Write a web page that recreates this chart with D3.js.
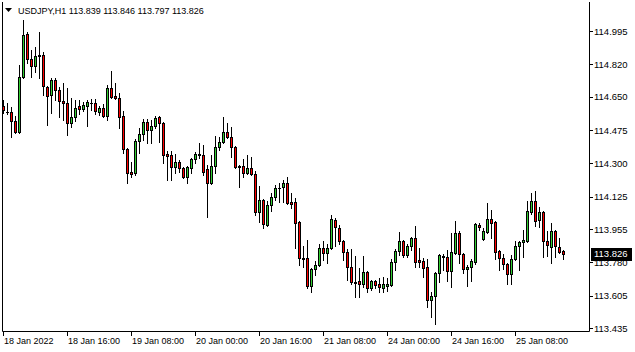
<!DOCTYPE html>
<html lang="en">
<head>
<meta charset="UTF-8">
<title>USDJPY H1 - D3</title>
<script src="https://d3js.org/d3.v7.min.js"></script>
<style>
  body { margin: 0; background: #fff; }
  svg text { font-family: "Liberation Sans", Arial, sans-serif; font-size: 9px; fill: #000; }
  svg text.price { font-size: 9.5px; }
</style>
</head>
<body>
<script>
var symbol = "USDJPY,H1";
var headerValues = ["113.839", "113.846", "113.797", "113.826"];

// hourly bars, 18 Jan 00:00 -> 25 Jan 20:00 (weekend skipped)
var open = [114.601,114.570,114.570,114.522,114.465,114.753,114.979,114.848,114.811,114.869,
  114.869,114.701,114.659,114.738,114.685,114.627,114.617,114.512,114.543,114.601,
  114.585,114.601,114.617,114.617,114.570,114.591,114.549,114.696,114.654,114.643,
  114.549,114.375,114.254,114.249,114.417,114.454,114.517,114.475,114.496,114.543,
  114.512,114.349,114.343,114.280,114.306,114.275,114.228,114.275,114.322,114.349,
  114.343,114.270,114.196,114.285,114.385,114.412,114.465,114.438,114.385,114.285,
  114.285,114.249,114.275,114.243,114.044,114.107,113.976,114.081,114.123,114.170,
  114.175,114.196,114.097,114.097,113.992,113.803,113.803,113.655,113.745,113.766,
  113.855,113.829,113.855,114.002,113.960,113.892,113.834,113.755,113.676,113.681,
  113.665,113.729,113.644,113.681,113.665,113.644,113.655,113.660,113.781,113.839,
  113.892,113.818,113.866,113.907,113.792,113.787,113.755,113.582,113.603,113.724,
  113.808,113.808,113.734,113.829,113.934,113.824,113.745,113.755,113.781,113.976,
  113.902,113.939,114.008,113.992,113.839,113.803,113.771,113.719,113.797,113.866,
  113.887,113.892,114.044,114.102,114.002,114.044,113.892,113.860,113.944,113.860,
  113.839];
var high = [114.633,114.617,114.596,114.549,114.816,115.053,114.990,114.895,114.911,114.990,
  114.885,114.706,114.748,114.748,114.701,114.722,114.696,114.643,114.633,114.633,
  114.622,114.633,114.638,114.638,114.601,114.612,114.711,114.785,114.722,114.669,
  114.575,114.381,114.306,114.427,114.486,114.533,114.533,114.528,114.549,114.549,
  114.517,114.364,114.364,114.349,114.317,114.280,114.285,114.327,114.359,114.406,
  114.396,114.291,114.343,114.443,114.438,114.543,114.512,114.491,114.391,114.291,
  114.322,114.343,114.333,114.259,114.180,114.112,114.102,114.144,114.186,114.196,
  114.212,114.228,114.144,114.118,113.997,113.866,113.897,113.750,113.787,113.876,
  113.892,113.876,114.029,114.013,113.976,113.897,113.850,113.850,113.813,113.750,
  113.813,113.734,113.687,113.687,113.697,113.703,113.697,113.797,113.850,113.939,
  113.897,113.876,113.913,113.971,113.855,113.803,113.797,113.623,113.729,113.824,
  113.824,113.845,113.934,113.997,113.944,113.829,113.766,113.797,113.987,113.987,
  113.960,114.092,114.055,113.997,113.845,113.824,113.776,113.818,113.892,113.892,
  113.950,114.102,114.144,114.154,114.071,114.050,113.944,113.987,113.950,113.907,
  113.846];
var low = [114.564,114.559,114.438,114.459,114.459,114.748,114.827,114.753,114.780,114.748,
  114.659,114.501,114.564,114.633,114.543,114.528,114.449,114.491,114.522,114.559,
  114.575,114.496,114.580,114.559,114.554,114.543,114.528,114.643,114.638,114.486,
  114.354,114.196,114.228,114.238,114.354,114.422,114.406,114.406,114.486,114.412,
  114.301,114.212,114.212,114.249,114.254,114.222,114.196,114.249,114.301,114.327,
  114.238,114.018,114.191,114.249,114.370,114.406,114.433,114.333,114.275,114.175,
  114.228,114.243,114.238,114.029,113.992,113.960,113.971,114.050,114.107,114.097,
  114.097,114.086,114.065,113.855,113.766,113.755,113.644,113.623,113.713,113.761,
  113.792,113.776,113.850,113.866,113.876,113.792,113.687,113.665,113.597,113.597,
  113.650,113.623,113.634,113.644,113.623,113.623,113.629,113.655,113.739,113.818,
  113.808,113.808,113.845,113.755,113.755,113.703,113.545,113.493,113.456,113.676,
  113.739,113.681,113.650,113.824,113.776,113.724,113.655,113.681,113.771,113.950,
  113.897,113.934,113.907,113.797,113.739,113.745,113.665,113.665,113.792,113.739,
  113.808,113.887,114.034,113.971,113.966,113.808,113.813,113.776,113.808,113.829,
  113.797];
var close = [114.580,114.568,114.522,114.465,114.753,114.974,114.848,114.811,114.864,114.864,
  114.706,114.654,114.738,114.685,114.627,114.617,114.512,114.543,114.591,114.585,
  114.606,114.622,114.615,114.575,114.591,114.549,114.696,114.648,114.643,114.543,
  114.375,114.249,114.243,114.417,114.454,114.517,114.475,114.496,114.538,114.512,
  114.343,114.341,114.280,114.306,114.275,114.228,114.280,114.322,114.349,114.343,
  114.254,114.196,114.285,114.385,114.412,114.465,114.438,114.385,114.280,114.283,
  114.249,114.275,114.243,114.044,114.107,113.981,114.081,114.123,114.170,114.168,
  114.196,114.092,114.086,113.987,113.803,113.797,113.655,113.745,113.766,113.855,
  113.829,113.855,114.008,113.966,113.892,113.834,113.755,113.676,113.673,113.665,
  113.729,113.644,113.681,113.660,113.650,113.665,113.665,113.781,113.839,113.892,
  113.818,113.866,113.907,113.781,113.781,113.750,113.582,113.603,113.724,113.818,
  113.813,113.734,113.834,113.934,113.824,113.745,113.755,113.787,113.981,113.966,
  113.944,114.008,113.987,113.834,113.803,113.771,113.719,113.797,113.866,113.887,
  113.897,114.050,114.102,113.997,114.044,113.892,113.871,113.944,113.866,113.834,
  113.826];

var timeTickBars = [0, 16, 32, 48, 64, 80, 96, 112, 128];
var timeTickLabels = ["18 Jan 2022", "18 Jan 16:00", "19 Jan 08:00", "20 Jan 00:00", "20 Jan 16:00",
  "21 Jan 08:00", "24 Jan 00:00", "24 Jan 16:00", "25 Jan 08:00"];
var priceTicks = [114.995, 114.820, 114.650, 114.475, 114.300, 114.125, 113.955, 113.780, 113.605, 113.435];
var lastPrice = 113.826;

var width = 635, height = 352;
var plot = { left: 2, right: 589, top: 2, bottom: 331 };

var svg = d3.select("body").append("svg")
  .attr("width", width)
  .attr("height", height)
  .style("display", "block");

var bars = open.map(function(o, i) {
  return { i: i, o: o, h: high[i], l: low[i], c: close[i] };
});

// bar index -> pixel column (4 px per bar)
var x = d3.scaleLinear().domain([0, bars.length - 1]).range([3, 3 + 4 * (bars.length - 1)]);
var y = d3.scaleLinear().domain([113.435, 114.995]).range([328, 31]);

// frame
svg.append("path")
  .attr("d", "M" + (plot.left + 0.5) + "," + plot.top + "V" + (plot.bottom + 0.5) +
             "H" + (plot.right + 0.5) + "V" + plot.top)
  .attr("fill", "none")
  .attr("stroke", "#000");

// candles
var g = svg.append("g");
var candle = g.selectAll(".candle").data(bars).enter().append("g").attr("class", "candle");

candle.append("line")
  .attr("x1", d => Math.round(x(d.i)) + 0.5)
  .attr("x2", d => Math.round(x(d.i)) + 0.5)
  .attr("y1", d => Math.round(y(d.h)))
  .attr("y2", d => Math.round(y(d.l)) + 1)
  .attr("stroke", "#000");

candle.append("rect")
  .attr("x", d => Math.round(x(d.i)) - 0.5)
  .attr("width", 2)
  .attr("y", d => Math.round(y(Math.max(d.o, d.c))) + 0.5)
  .attr("height", d => Math.max(0.01, Math.round(y(Math.min(d.o, d.c))) - Math.round(y(Math.max(d.o, d.c)))))
  .attr("fill", d => d.c >= d.o ? "#32cd32" : "#ff0000")
  .attr("stroke", "#000");

// price axis
var py = svg.append("g");
py.selectAll("line").data(priceTicks).enter().append("line")
  .attr("x1", plot.right + 1).attr("x2", plot.right + 4)
  .attr("y1", d => Math.round(y(d)) + 0.5).attr("y2", d => Math.round(y(d)) + 0.5)
  .attr("stroke", "#000");
py.selectAll("text").data(priceTicks).enter().append("text")
  .attr("class", "price")
  .attr("x", 594)
  .attr("y", d => y(d) + 3.5)
  .text(d => d.toFixed(3));

// last price marker
svg.append("rect")
  .attr("x", 591).attr("y", Math.round(y(lastPrice)) - 6)
  .attr("width", 41).attr("height", 13)
  .attr("fill", "#000");
svg.append("text")
  .attr("class", "price")
  .attr("x", 594).attr("y", y(lastPrice) + 3.5)
  .style("fill", "#fff")
  .text(lastPrice.toFixed(3));

// time axis
var tx = svg.append("g");
tx.selectAll("line").data(timeTickBars).enter().append("line")
  .attr("x1", d => Math.round(x(d)) + 0.5).attr("x2", d => Math.round(x(d)) + 0.5)
  .attr("y1", plot.bottom + 1).attr("y2", plot.bottom + 5)
  .attr("stroke", "#000");
tx.selectAll("text").data(timeTickBars).enter().append("text")
  .attr("x", d => Math.round(x(d)) + 1)
  .attr("y", 344)
  .text((d, k) => timeTickLabels[k]);

// header
svg.append("path")
  .attr("d", "M5,8H12L8.5,12Z")
  .attr("fill", "#000");
svg.append("text")
  .attr("x", 18).attr("y", 14)
  .text(symbol + "   " + headerValues.join(" "));
</script>
</body>
</html>
